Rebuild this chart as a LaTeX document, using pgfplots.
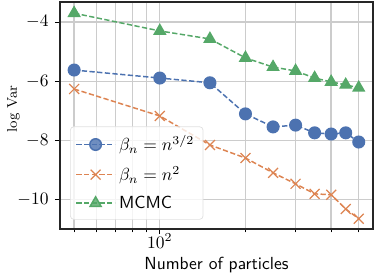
\documentclass[border=0pt]{standalone}
\usepackage{pgfplots}
\pgfplotsset{compat=1.18}
\definecolor{cblue}{HTML}{4C72B0}
\definecolor{corange}{HTML}{DD8452}
\definecolor{cgreen}{HTML}{55A868}
\begin{document}
\begin{tikzpicture}
\path[use as bounding box] (-34.3pt,-26.9pt) rectangle (179.5pt,130.8pt);
\begin{axis}[
  scale only axis, width=178.9pt, height=129.7pt,
  at={(0,0)}, anchor=south west,
  xmode=log, log basis x=10,
  xmin=44.6, xmax=561, ymin=-10.98, ymax=-3.32,
  ytick={-10,-8,-6,-4},
  xtick={100}, minor xtick={50,60,70,80,90,200,300,400,500},
  grid=both,
  major grid style={color=black!20, line width=0.75pt},
  minor grid style={color=black!20, line width=0.75pt},
  tick align=outside, xtick pos=bottom, ytick pos=left,
  major tick length=3pt, minor tick length=2pt,
  tick style={black, line width=0.6pt},
  x tick label style={yshift=1.2pt, inner sep=1pt},
  axis line style={line width=0.8pt, black!85},
  xlabel={\sffamily Number of particles},
  xlabel style={at={(axis description cs:0.5,0)}, anchor=base, yshift=-23.2pt, inner sep=1pt},
  ylabel={\fontsize{8}{10}\selectfont log Var},
  ylabel style={at={(axis description cs:-0.1375,0.528)}, anchor=base},
  legend style={at={(rel axis cs:0.032,0.040)}, anchor=south west,
    draw=black!12, rounded corners=2pt, fill=white, fill opacity=0.8, text opacity=1,
    inner sep=3pt, row sep=3.2pt, font=\fontsize{10}{11}\selectfont},
  legend cell align=left,
  legend image code/.code={\draw[mark repeat=2,mark phase=2] plot coordinates {(0pt,0pt) (11pt,0pt) (22pt,0pt)};},
  every axis plot/.append style={line width=0.85pt, dash pattern=on 3pt off 1.4pt},
]
\addplot[cblue, mark=*, mark size=3.3pt, mark options={solid, fill=cblue, draw=cblue}] coordinates {
(50,-5.62) (100,-5.89) (150,-6.05) (200,-7.10) (250,-7.54) (300,-7.48) (350,-7.74) (400,-7.78) (450,-7.74) (500,-8.05)};
\addlegendentry{$\beta_n = n^{3/2}$}
\addplot[corange, mark=x, mark size=4pt, mark options={solid, line width=0.7pt}] coordinates {
(50,-6.26) (100,-7.17) (150,-8.15) (200,-8.59) (250,-9.09) (300,-9.46) (350,-9.80) (400,-9.83) (450,-10.31) (500,-10.64)};
\addlegendentry{$\beta_n = n^2$}
\addplot[cgreen, mark=triangle*, mark size=3.6pt, mark options={solid, fill=cgreen, draw=cgreen}] coordinates {
(50,-3.70) (100,-4.30) (150,-4.57) (200,-5.21) (250,-5.52) (300,-5.65) (350,-5.89) (400,-6.02) (450,-6.12) (500,-6.22)};
\addlegendentry{\sffamily MCMC}
\end{axis}
\end{tikzpicture}
\end{document}
